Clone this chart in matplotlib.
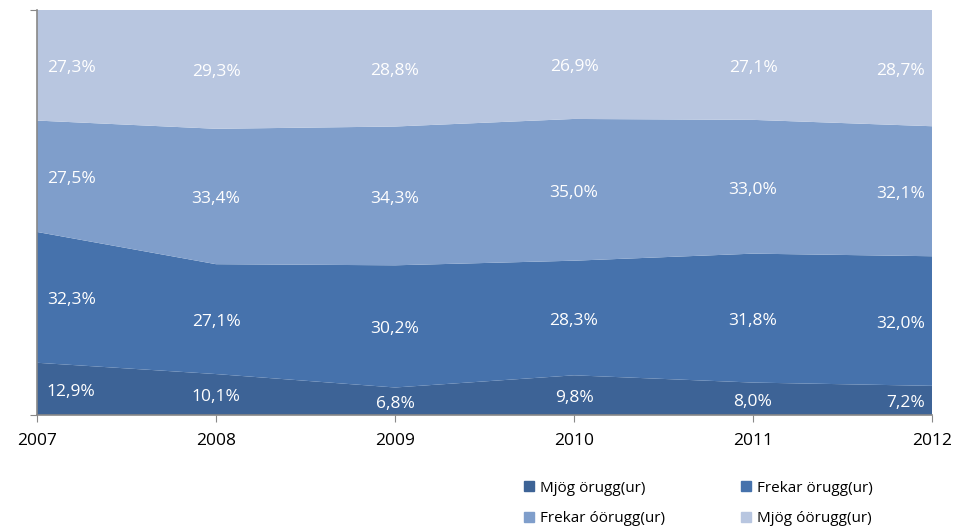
import matplotlib
matplotlib.use('Agg')
import matplotlib.pyplot as plt
import matplotlib.patches as mpatches
import numpy as np

years = [2007, 2008, 2009, 2010, 2011, 2012]
series_names = ['Mjög örugg(ur)', 'Frekar örugg(ur)', 'Frekar óörugg(ur)', 'Mjög óörugg(ur)']
mjog_orugg = [12.9, 10.1, 6.8, 9.8, 8.0, 7.2]
frekar_orugg = [32.3, 27.1, 30.2, 28.3, 31.8, 32.0]
frekar_oorugg = [27.5, 33.4, 34.3, 35.0, 33.0, 32.1]
mjog_oorugg = [27.3, 29.3, 28.8, 26.9, 27.1, 28.7]

colors = ['#3D6396', '#4672AC', '#7F9ECB', '#B8C6E0']

plt.rcParams['font.family'] = ['Open Sans', 'DejaVu Sans']

values = np.array([mjog_orugg, frekar_orugg, frekar_oorugg, mjog_oorugg])
shares = values / values.sum(axis=0) * 100
x = np.arange(len(years))

fig = plt.figure(figsize=(9.55, 5.26), dpi=100)
ax = fig.add_axes([37 / 955, 1 - 415 / 526, 895 / 955, 405 / 526])

ax.stackplot(x, shares, colors=colors, edgecolor='none')
ax.set_xlim(0, len(years) - 1)
ax.set_ylim(0, 100)

# value labels in the middle of each band
bottoms = np.vstack([np.zeros(len(x)), np.cumsum(shares, axis=0)[:-1]])
for s in range(len(series_names)):
    for i in range(len(x)):
        mid = bottoms[s, i] + shares[s, i] / 2
        txt = f'{values[s, i]:.1f}%'.replace('.', ',')
        if i == 0:
            ax.annotate(txt, (x[i], mid), xytext=(7, -2), textcoords='offset points',
                        ha='left', va='center', color='white', fontsize=12.5)
        elif i == len(x) - 1:
            ax.annotate(txt, (x[i], mid), xytext=(-5, -2), textcoords='offset points',
                        ha='right', va='center', color='white', fontsize=12.5)
        else:
            ax.annotate(txt, (x[i], mid), xytext=(0, -2), textcoords='offset points',
                        ha='center', va='center', color='white', fontsize=12.5)

ax.set_xticks(x)
ax.set_xticklabels([str(y) for y in years], fontsize=12.5)
ax.set_yticks([0, 100])
ax.set_yticklabels([])
ax.tick_params(axis='x', direction='out', length=5, color='#888888', pad=8)
ax.tick_params(axis='y', direction='out', length=5, color='#888888')
for side in ['top', 'right']:
    ax.spines[side].set_visible(False)
ax.spines['left'].set_color('#888888')
ax.spines['bottom'].set_color('#888888')
ax.spines['left'].set_linewidth(1.2)
ax.spines['bottom'].set_linewidth(1.2)

# legend filled row by row
patches = [mpatches.Patch(color=c, label=n) for c, n in zip(colors, series_names)]
handles = [patches[0], patches[2], patches[1], patches[3]]
fig.legend(handles=handles, ncol=2, loc='upper left', bbox_to_anchor=(510 / 955, 1 - 467 / 526),
           frameon=False, fontsize=11, handlelength=0.65, handleheight=0.65,
           handletextpad=0.4, columnspacing=5.0, labelspacing=1.0)

fig.savefig('out.png', dpi=100)
